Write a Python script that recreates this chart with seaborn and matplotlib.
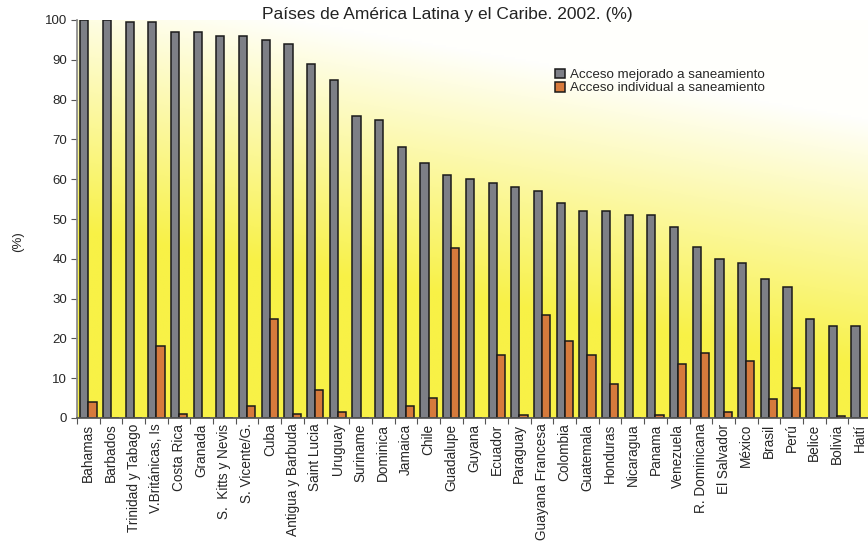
import numpy as np
import pandas as pd
import matplotlib
matplotlib.use("Agg")
import matplotlib.pyplot as plt
import seaborn as sns

# datos
paises = ["Bahamas", "Barbados", "Trinidad y Tabago", "V.Británicas, Is", "Costa Rica",
          "Granada", "S.  Kitts y Nevis", "S. Vicente/G.", "Cuba", "Antigua y Barbuda",
          "Saint Lucia", "Uruguay", "Suriname", "Dominica", "Jamaica", "Chile", "Guadalupe",
          "Guyana", "Ecuador", "Paraguay", "Guayana Francesa", "Colombia", "Guatemala",
          "Honduras", "Nicaragua", "Panama", "Venezuela", "R. Dominicana", "El Salvador",
          "México", "Brasil", "Perú", "Belice", "Bolivia", "Haití"]
mejorado = [100, 100, 99.6, 99.6, 97, 97, 96, 96, 95, 94, 89, 85, 76, 75, 68, 64, 61,
            60, 59, 58, 57, 54, 52, 52, 51, 51, 48, 43, 40, 39, 35, 33, 25, 23, 23]
individual = [4, 0, 0, 18.2, 1, 0, 0, 3, 25, 1, 7, 1.6, 0, 0, 3, 5, 42.8,
              0, 15.9, 0.8, 25.8, 19.4, 15.8, 8.5, 0, 0.8, 13.6, 16.4, 1.4, 14.4, 4.8, 7.6, 0, 0.6, 0]
series = ["Acceso mejorado a saneamiento", "Acceso individual a saneamiento"]
colores = ["#7d7f86", "#d67a3c"]

df = pd.DataFrame({
    "pais": paises * 2,
    "valor": mejorado + individual,
    "serie": [series[0]] * len(paises) + [series[1]] * len(paises),
})

sns.set_theme(style="white")
plt.rcParams['font.family'] = ['Liberation Sans', 'DejaVu Sans']

fig = plt.figure(figsize=(8.68, 5.45), dpi=100)
ax = fig.add_axes([77 / 868, 127 / 545, 794 / 868, 398 / 545])

# fondo degradado: blanco arriba a la derecha, amarillo abajo
ny, nx = 200, 300
yy, xx = np.mgrid[0:1:ny * 1j, 0:1:nx * 1j]   # yy = 0 arriba
f = np.clip(yy * 1.6 - xx * 0.55 + 0.15, 0, 1)[..., None]
blanco = np.array([1.0, 1.0, 0.99])
amarillo = np.array([248, 241, 70]) / 255
img = blanco * (1 - f) + amarillo * f
ax.imshow(img, extent=(-0.5, 34.5, 0, 100), origin="upper", aspect="auto", zorder=0)

sns.barplot(data=df, x="pais", y="valor", hue="serie", palette=colores,
            width=0.72, edgecolor="#1a1a1a", linewidth=1.1, saturation=1,
            ax=ax, zorder=2)

ax.set_xlim(-0.5, 34.5)
ax.set_ylim(0, 100)
ax.set_yticks(range(0, 101, 10))
ax.tick_params(axis="y", length=4, width=0.8, color="#555555", labelsize=9.5, pad=3, left=True)
ax.set_xticks(range(len(paises)))
ax.set_xticklabels(paises, rotation=90, fontsize=9.8)
ax.set_xticks(np.arange(-0.5, 35, 1), minor=True)
ax.tick_params(axis="x", which="major", length=0, pad=4)
ax.tick_params(axis="x", which="minor", length=4, width=0.8, color="#555555", bottom=True)
ax.set_xlabel("")
ax.set_ylabel("")
for s in ["top", "right"]:
    ax.spines[s].set_visible(False)
ax.spines["left"].set_color("#8a8a8a")
ax.spines["bottom"].set_color("#555555")
ax.grid(False)

leg = ax.legend(loc="upper left", bbox_to_anchor=(548 / 868, 1 - 62 / 545),
                bbox_transform=fig.transFigure, frameon=False, fontsize=9.6,
                handlelength=0.75, handleheight=0.75, handletextpad=0.4,
                labelspacing=0.05, borderpad=0)

fig.text(447 / 868, 1 - 15 / 545, "Países de América Latina y el Caribe. 2002. (%)",
         ha="center", va="center", fontsize=12.5, color="#222222")
fig.text(18 / 868, 1 - 242 / 545, "(%)", rotation=90, ha="center", va="center", fontsize=9.5)

fig.savefig("out.png", dpi=100, facecolor="white")
